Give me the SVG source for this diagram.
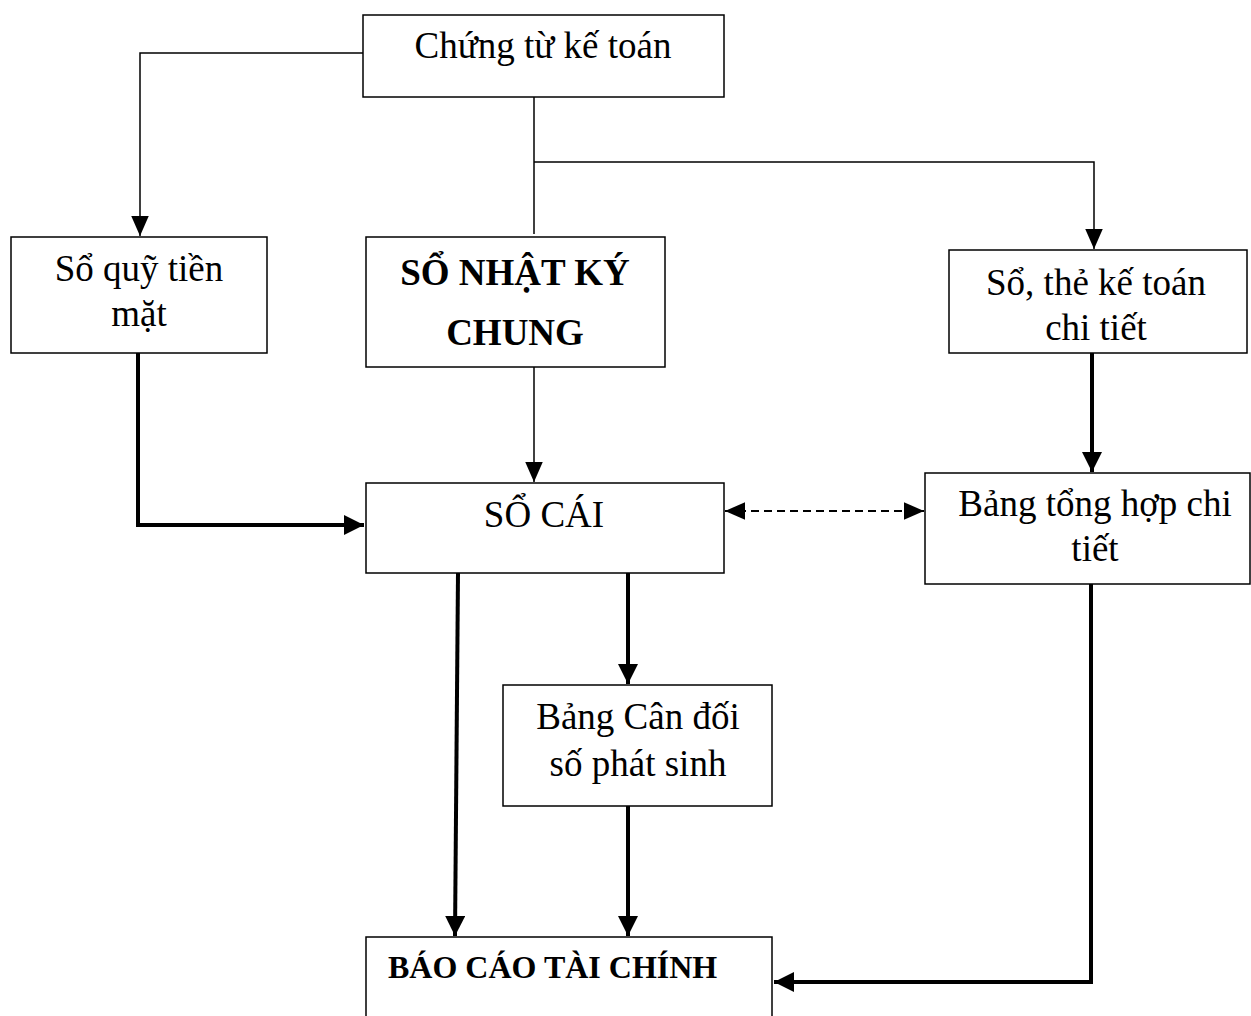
<svg xmlns="http://www.w3.org/2000/svg" width="1251" height="1016" viewBox="0 0 1251 1016">
<defs>
<style>
.box{fill:#fff;stroke:#000;stroke-width:1.5}
.t{font-family:"Liberation Serif","Times New Roman",serif;font-size:37px;fill:#000;text-anchor:middle}
.b{font-weight:bold}
.thin{fill:none;stroke:#000;stroke-width:1.5}
.thick{fill:none;stroke:#000;stroke-width:4}
.dash{fill:none;stroke:#000;stroke-width:2;stroke-dasharray:8 5}
</style>
<marker id="a" markerUnits="userSpaceOnUse" markerWidth="20" markerHeight="20" refX="16" refY="8" orient="auto-start-reverse" viewBox="0 0 16 16"><path d="M0,1 L16,8 L0,15 Z" fill="#000"/></marker>
<marker id="ab" markerUnits="userSpaceOnUse" markerWidth="20" markerHeight="20" refX="18" refY="9" orient="auto-start-reverse" viewBox="0 0 18 18"><path d="M0,0 L18,9 L0,18 Z" fill="#000"/></marker>
</defs>
<rect width="1251" height="1016" fill="#fff"/>
<g id="connectors">
<path class="thin" d="M363,53 H140 V236" marker-end="url(#a)"/>
<path class="thin" d="M534,97 V234"/>
<path class="thin" d="M534,162 H1094 V249" marker-end="url(#a)"/>
<path class="thin" d="M534,367 V482" marker-end="url(#a)"/>
<path class="thick" d="M138,353 V525 H364" marker-end="url(#ab)"/>
<path class="thick" d="M1092,353 V472" marker-end="url(#ab)"/>
<path class="dash" d="M725,511 H924" marker-start="url(#a)" marker-end="url(#a)"/>
<path class="thick" d="M458,573 L455,936" marker-end="url(#ab)"/>
<path class="thick" d="M628,573 V684" marker-end="url(#ab)"/>
<path class="thick" d="M628,806 V936" marker-end="url(#ab)"/>
<path class="thick" d="M1091,584 V982 H774" marker-end="url(#ab)"/>
</g>
<g id="n1"><rect class="box" x="363" y="15" width="361" height="82"/><text class="t" x="543" y="58">Chứng từ kế toán</text></g>
<g id="n2"><rect class="box" x="11" y="237" width="256" height="116"/><text class="t" x="139" y="281">Sổ quỹ tiền</text><text class="t" x="139" y="326">mặt</text></g>
<g id="n3"><rect class="box" x="366" y="237" width="299" height="130"/><text class="t b" x="515" y="285">SỔ NHẬT KÝ</text><text class="t b" x="515" y="345">CHUNG</text></g>
<g id="n4"><rect class="box" x="949" y="250" width="298" height="103"/><text class="t" x="1096" y="295">Sổ, thẻ kế toán</text><text class="t" x="1096" y="340">chi tiết</text></g>
<g id="n5"><rect class="box" x="366" y="483" width="358" height="90"/><text class="t" x="544" y="527">SỔ CÁI</text></g>
<g id="n6"><rect class="box" x="925" y="473" width="325" height="111"/><text class="t" x="1095" y="516">Bảng tổng hợp chi</text><text class="t" x="1095" y="561">tiết</text></g>
<g id="n7"><rect class="box" x="503" y="685" width="269" height="121"/><text class="t" x="638" y="729">Bảng Cân đối</text><text class="t" x="638" y="776">số phát sinh</text></g>
<g id="n8"><rect class="box" x="366" y="937" width="406" height="90"/><text class="t b" x="388" y="978" style="text-anchor:start;font-size:32px">BÁO CÁO TÀI CHÍNH</text></g>
</svg>
